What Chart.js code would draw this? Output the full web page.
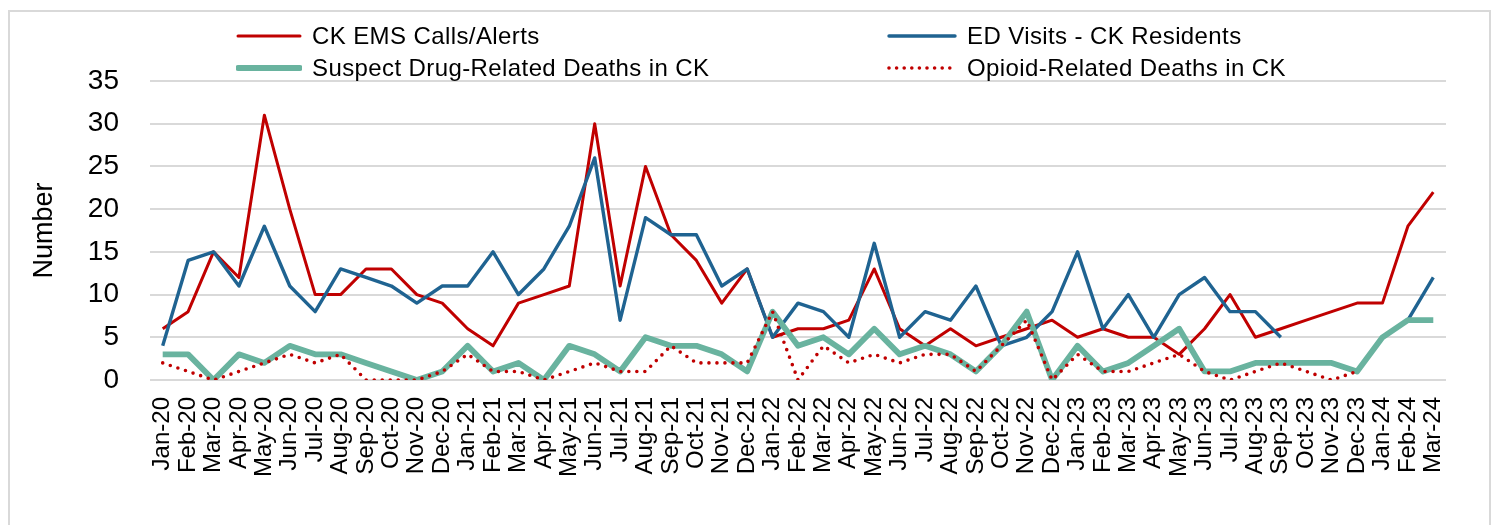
<!DOCTYPE html>
<html>
<head>
<meta charset="utf-8">
<script src="https://cdn.jsdelivr.net/npm/chart.js@4/dist/chart.umd.min.js"></script>
<style>
  html, body { margin: 0; padding: 0; background: #fff; }
  #wrap { position: relative; width: 1497px; height: 525px; overflow: hidden; background: #fff; }
  #frame { position: absolute; left: 8px; top: 10px; width: 1483px; height: 540px; border: 2px solid #d9d9d9; box-sizing: border-box; }
  #chart { position: absolute; left: 0; top: 0; }
  .lg { position: absolute; display: flex; align-items: center; white-space: nowrap; height: 30px;
        font-family: "Liberation Sans", Arial, sans-serif; font-size: 24px; letter-spacing: 0.4px; color: #000; }
  .lg svg { display: block; margin-right: 10px; }
</style>
</head>
<body>
<div id="wrap">
  <div id="frame"></div>
  <canvas id="chart" width="1497" height="525"></canvas>
  <div id="legend"></div>
</div>
<script>
// ---- Data ----
const categories = [
  'Jan-20','Feb-20','Mar-20','Apr-20','May-20','Jun-20','Jul-20','Aug-20','Sep-20','Oct-20','Nov-20','Dec-20',
  'Jan-21','Feb-21','Mar-21','Apr-21','May-21','Jun-21','Jul-21','Aug-21','Sep-21','Oct-21','Nov-21','Dec-21',
  'Jan-22','Feb-22','Mar-22','Apr-22','May-22','Jun-22','Jul-22','Aug-22','Sep-22','Oct-22','Nov-22','Dec-22',
  'Jan-23','Feb-23','Mar-23','Apr-23','May-23','Jun-23','Jul-23','Aug-23','Sep-23','Oct-23','Nov-23','Dec-23',
  'Jan-24','Feb-24','Mar-24'
];
const emsCalls = [
  6, 8, 15, 12, 31, 20, 10, 10, 13, 13, 10, 9,
  6, 4, 9, 10, 11, 30, 11, 25, 17, 14, 9, 13,
  5, 6, 6, 7, 13, 6, 4, 6, 4, 5, 6, 7,
  5, 6, 5, 5, 3, 6, 10, 5, 6, 7, 8, 9,
  9, 18, 22
];
const edVisits = [
  4, 14, 15, 11, 18, 11, 8, 13, 12, 11, 9, 11,
  11, 15, 10, 13, 18, 26, 7, 19, 17, 17, 11, 13,
  5, 9, 8, 5, 16, 5, 8, 7, 11, 4, 5, 8,
  15, 6, 10, 5, 10, 12, 8, 8, 5, null, null, null,
  null, 7, 12
];
const suspectDeaths = [
  3, 3, 0, 3, 2, 4, 3, 3, 2, 1, 0, 1,
  4, 1, 2, 0, 4, 3, 1, 5, 4, 4, 3, 1,
  8, 4, 5, 3, 6, 3, 4, 3, 1, 4, 8, 0,
  4, 1, 2, 4, 6, 1, 1, 2, 2, 2, 2, 1,
  5, 7, 7
];
const opioidDeaths = [
  2, 1, 0, 1, 2, 3, 2, 3, 0, 0, 0, 1,
  3, 1, 1, 0, 1, 2, 1, 1, 4, 2, 2, 2,
  8, 0, 4, 2, 3, 2, 3, 3, 1, 4, 7, 0,
  3, 1, 1, 2, 3, 1, 0, 1, 2, 1, 0, 1,
  null, null, null
];
const yTicks = { min: 0, max: 35, step: 5 };
const yTitle = 'Number';

const seriesNames = {
  ems: 'CK EMS Calls/Alerts',
  ed: 'ED Visits - CK Residents',
  suspect: 'Suspect Drug-Related Deaths in CK',
  opioid: 'Opioid-Related Deaths in CK'
};

// ---- Styles ----
const RED = '#C00000';
const BLUE = '#1F6391';
const TEAL = '#69B39F';
const FONT = '"Liberation Sans", Arial, sans-serif';

const datasets = [
  { key: 'ems', label: seriesNames.ems, data: emsCalls, borderColor: RED, backgroundColor: RED, borderWidth: 3, order: 4 },
  { key: 'ed', label: seriesNames.ed, data: edVisits, borderColor: BLUE, backgroundColor: BLUE, borderWidth: 3.4, order: 3 },
  { key: 'suspect', label: seriesNames.suspect, data: suspectDeaths, borderColor: TEAL, backgroundColor: TEAL, borderWidth: 5.8, order: 2 },
  { key: 'opioid', label: seriesNames.opioid, data: opioidDeaths, borderColor: RED, backgroundColor: RED, borderWidth: 3.6,
    borderDash: [0, 8], borderCapStyle: 'round', order: 1 }
];

const chart = new Chart(document.getElementById('chart').getContext('2d'), {
  type: 'line',
  data: { labels: categories, datasets: datasets.map(d => ({
    label: d.label, data: d.data, borderColor: d.borderColor, backgroundColor: d.backgroundColor,
    borderWidth: d.borderWidth, borderDash: d.borderDash || [], borderCapStyle: d.borderCapStyle || 'butt',
    borderJoinStyle: 'round', order: d.order, pointRadius: 0, pointHoverRadius: 0, tension: 0, fill: false, spanGaps: false
  })) },
  options: {
    responsive: false,
    animation: false,
    layout: { padding: { left: 0, right: 51, top: 81, bottom: 0 } },
    plugins: { legend: { display: false }, tooltip: { enabled: false } },
    scales: {
      x: {
        type: 'category',
        offset: true,
        grid: { display: false, drawTicks: false },
        border: { display: false },
        ticks: { autoSkip: false, maxRotation: 90, minRotation: 90, padding: 17, color: '#000',
                 font: { family: FONT, size: 24 } },
        afterFit(s) { s.height = 145; }
      },
      y: {
        min: yTicks.min, max: yTicks.max,
        ticks: { stepSize: yTicks.step, padding: 31, color: '#000', font: { family: FONT, size: 28 } },
        grid: { color: '#d9d9d9', lineWidth: 2, drawTicks: false },
        border: { display: false },
        title: { display: true, text: yTitle, color: '#000', font: { family: FONT, size: 27 }, padding: { top: 28, bottom: 0 } },
        afterFit(s) { s.width = 150; }
      }
    }
  }
});

// ---- HTML legend (2 columns x 2 rows) ----
const legendSlots = { ems: [236, 36], ed: [887, 36], suspect: [236, 68], opioid: [887, 68] };
const legendEl = document.getElementById('legend');
datasets.forEach(d => {
  const [lx, cy] = legendSlots[d.key];
  const item = document.createElement('div');
  item.className = 'lg';
  item.style.left = lx + 'px';
  item.style.top = (cy - 15) + 'px';
  const w = d.key === 'ed' || d.key === 'opioid' ? 70 : 66;
  const dash = d.borderDash ? `stroke-dasharray="0 7.6" stroke-linecap="round"` : `stroke-linecap="round"`;
  item.innerHTML = `<svg width="${w}" height="10"><line x1="2" y1="5" x2="${w - 2}" y2="5" stroke="${d.borderColor}" stroke-width="${d.borderWidth}" ${dash}/></svg><span>${d.label}</span>`;
  legendEl.appendChild(item);
});
</script>
</body>
</html>
